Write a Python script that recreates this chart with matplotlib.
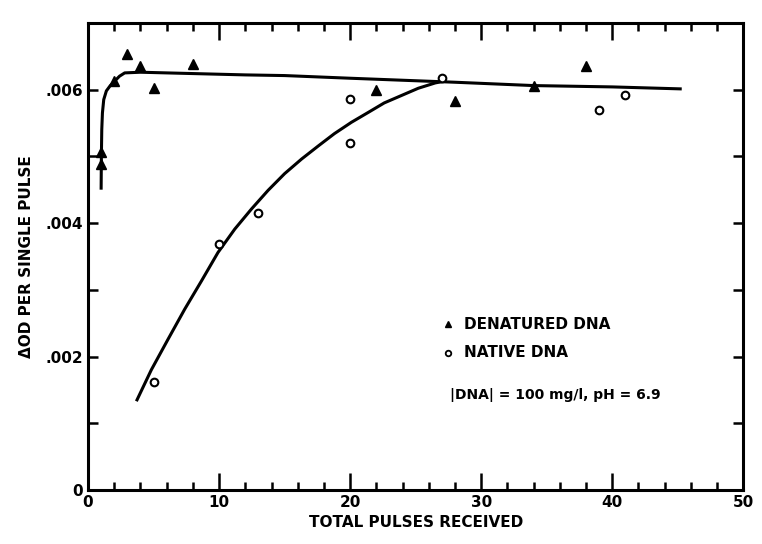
import matplotlib
matplotlib.use("Agg")
import matplotlib.pyplot as plt
from matplotlib.ticker import MultipleLocator, FixedLocator

# measured points
den_x = [1, 1, 2, 3, 4, 5, 8, 22, 28, 34, 38]
den_y = [0.00507, 0.00489, 0.00613, 0.00654, 0.00636, 0.00603, 0.00639,
         0.00600, 0.00583, 0.00606, 0.00635]
nat_x = [5, 10, 13, 20, 20, 27, 39, 41]
nat_y = [0.00162, 0.00368, 0.00415, 0.00586, 0.00520, 0.00618, 0.00570, 0.00592]

# hand drawn curves
den_curve_x = [1.0, 1.02, 1.05, 1.1, 1.2, 1.4, 1.7, 2.0, 2.4, 2.8, 4, 8, 12, 15, 20, 24, 28, 34, 40, 45.3]
den_curve_y = [0.00450, 0.00500, 0.00540, 0.00565, 0.00585, 0.00598, 0.00606, 0.00612, 0.00620,
               0.00625, 0.00626, 0.00624, 0.00622, 0.00621, 0.00617, 0.00614, 0.00611,
               0.00606, 0.00604, 0.00601]
nat_curve_x = [3.69, 4.83, 6.11, 7.38, 8.65, 9.92, 11.2, 12.47, 13.74, 15.0, 16.3, 17.6,
               18.8, 20.1, 21.4, 22.6, 23.9, 25.2, 26.5, 27.3]
nat_curve_y = [0.00133, 0.00180, 0.00226, 0.00271, 0.00313, 0.00356, 0.00391, 0.00421,
               0.00449, 0.00474, 0.00496, 0.00516, 0.00534, 0.00551, 0.00566, 0.00580,
               0.00591, 0.00602, 0.00610, 0.00613]

xticks = [0, 10, 20, 30, 40, 50]
yticks = [0, 0.002, 0.004, 0.006]
ytick_labels = ["0", ".002", ".004", ".006"]

plt.rcParams["font.family"] = ["DejaVu Sans"]
plt.rcParams["font.weight"] = "bold"

fig = plt.figure(figsize=(7.62, 5.44), dpi=100)
ax = fig.add_axes([0.1155, 0.0993, 0.86, 0.8587])

ax.plot(den_curve_x, den_curve_y, color="black", lw=2.2, solid_capstyle="butt")
ax.plot(nat_curve_x, nat_curve_y, color="black", lw=2.2, solid_capstyle="butt")
ax.plot(den_x, den_y, "^", color="black", ms=7, ls="none")
ax.plot(nat_x, nat_y, "o", mfc="white", mec="black", mew=1.5, ms=5.5, ls="none")

ax.set_xlim(0, 50)
ax.set_ylim(0, 0.007)
ax.xaxis.set_major_locator(FixedLocator(xticks))
ax.xaxis.set_minor_locator(MultipleLocator(2))
ax.yaxis.set_major_locator(FixedLocator(yticks))
ax.yaxis.set_minor_locator(MultipleLocator(0.001))
ax.set_yticklabels(ytick_labels)

ax.tick_params(axis="both", which="both", direction="in", top=True, right=True,
               width=1.8, labelsize=11)
ax.tick_params(axis="x", which="major", length=12)
ax.tick_params(axis="x", which="minor", length=6)
ax.tick_params(axis="y", which="both", length=7)
for s in ax.spines.values():
    s.set_linewidth(2.2)

ax.set_xlabel("TOTAL PULSES RECEIVED", fontsize=11, fontweight="bold")
ax.set_ylabel("ΔOD PER SINGLE PULSE", fontsize=11, fontweight="bold", labelpad=8)

ax.plot([27.5], [0.00248], "^", color="black", ms=5)
ax.text(28.7, 0.00248, "DENATURED DNA", fontsize=11, fontweight="bold", va="center")
ax.plot([27.5], [0.00206], "o", mfc="white", mec="black", mew=1.3, ms=4)
ax.text(28.7, 0.00206, "NATIVE DNA", fontsize=11, fontweight="bold", va="center")
ax.text(27.6, 0.00143, "|DNA| = 100 mg/l, pH = 6.9", fontsize=10, fontweight="bold", va="center")

fig.savefig("out.png", dpi=100)
